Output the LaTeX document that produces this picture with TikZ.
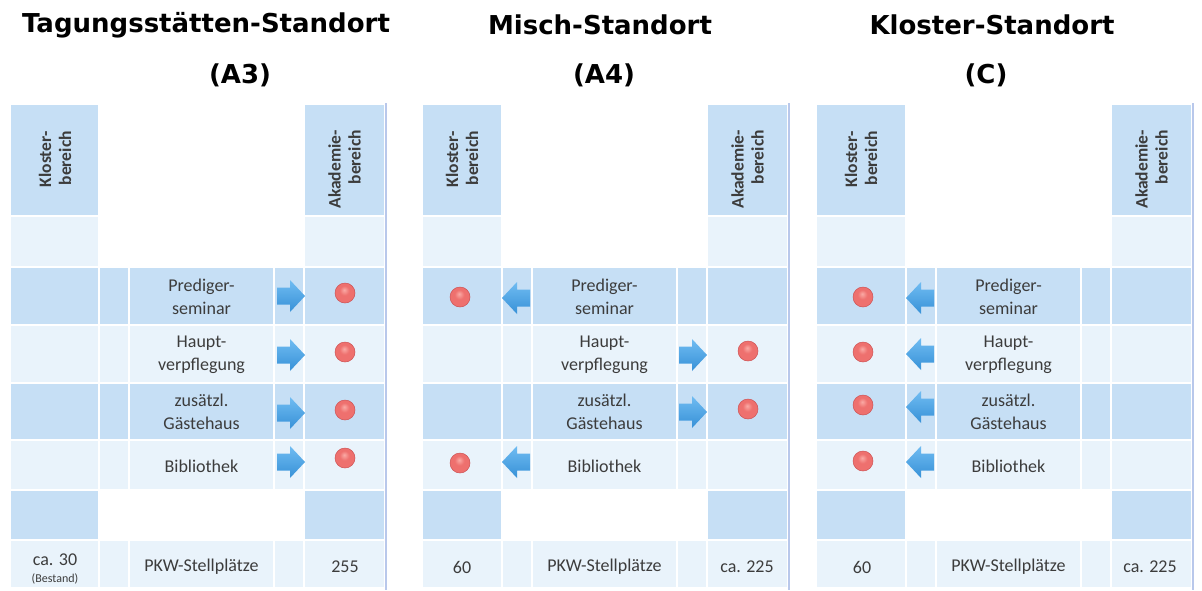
\documentclass[tikz,border=0pt]{standalone}
\usepackage{fontspec}
\setmainfont{Carlito}
\newfontfamily\headfont{DejaVu Sans}

\definecolor{cellDark}{RGB}{198,223,245}
\definecolor{cellLight}{RGB}{233,243,251}
\definecolor{txt}{RGB}{60,60,60}
\definecolor{sepline}{RGB}{185,200,235}
\definecolor{arrTop}{RGB}{112,188,242}
\definecolor{arrBot}{RGB}{55,145,215}
\definecolor{dotA}{RGB}{250,170,165}
\definecolor{dotB}{RGB}{238,112,110}
\definecolor{dotC}{RGB}{205,82,84}

\pgfdeclareradialshading{dotshade}{\pgfpoint{-2bp}{8bp}}{%
  color(0bp)=(dotA); color(12bp)=(dotB); color(42bp)=(dotB); color(50bp)=(dotC)}

\tikzset{
  title/.style={font=\headfont\bfseries\fontsize{26}{30}\selectfont, text=black, inner sep=0pt},
  head/.style={rotate=90, align=right, anchor=east, inner sep=0pt, text=txt,
               font=\bfseries\fontsize{17.5}{20}\selectfont},
  cell/.style={align=center, inner sep=0pt, text=txt,
               font=\fontsize{18}{23}\selectfont},
  dot/.style={circle, minimum size=20pt, inner sep=0pt, draw=dotC, line width=0.5pt,
              shade, shading=dotshade},
  arrowfill/.style={top color=arrTop, bottom color=arrBot, draw=none},
  rarrow/.pic={\shade[arrowfill] (-14,-8.5) -- (-1,-8.5) -- (-1,-16) -- (14,0)
                 -- (-1,16) -- (-1,8.5) -- (-14,8.5) -- cycle;},
  larrow/.pic={\shade[arrowfill,xscale=-1] (-14,-8.5) -- (-1,-8.5) -- (-1,-16) -- (14,0)
                 -- (-1,16) -- (-1,8.5) -- (-14,8.5) -- cycle;},
  divider/.style={draw=sepline, line width=2.5pt},
}

% Cell grid of one panel: #1 = left edge of the Kloster column,
% #2 = left edge of the narrow column next to it
\newcommand\gridpanel[2]{%
  \foreach \ya/\yb/\side/\mid in {105/215/cellDark/none, 217/266/cellLight/none,
      268/324/cellDark/cellDark, 326/382/cellLight/cellLight,
      384/439/cellDark/cellDark, 441/489/cellLight/cellLight,
      491/539/cellDark/none, 541/587/cellLight/cellLight}{%
    \path[fill=\side] (#1,\ya) rectangle (#2-2,\yb);
    \path[fill=\side] (#2+205,\ya) rectangle (#2+284,\yb);
    \path[fill=\mid] (#2,\ya) rectangle (#2+28,\yb);
    \path[fill=\mid] (#2+30,\ya) rectangle (#2+173,\yb);
    \path[fill=\mid] (#2+175,\ya) rectangle (#2+203,\yb);
  }%
}

\begin{document}
\begin{tikzpicture}[x=1pt, y=-1pt]
\useasboundingbox (0,0) rectangle (1202,590);
\fill[white] (0,0) rectangle (1202,590);

% ---------- titles ----------
\node[title] (t1) at (206,25) {Tagungsstätten-Standort};
\node[title] (s1) at (240,75) {(A3)};
\node[title] (t2) at (600,25) {Misch-Standort};
\node[title] (s2) at (604,75) {(A4)};
\node[title] (t3) at (992,25) {Kloster-Standort};
\node[title] (s3) at (986,75) {(C)};

% ---------- grids ----------
\gridpanel{11}{100}
\gridpanel{423}{503}
\gridpanel{817}{907}

% dividers between the panels
\draw[divider] (386,103) -- (386,590);
\draw[divider] (789,103) -- (789,590);
\draw[divider] (1193,103) -- (1193,590);

% ---------- panel A3 ----------
\node[head] (k1) at (55,131) {Kloster-\\bereich};
\node[head] (a1) at (344.5,130) {Akademie-\\bereich};
\node[cell] (p1r3) at (201.5,297) {Prediger-\\seminar};
\node[cell] (p1r4) at (201.5,355) {Haupt-\\verpflegung};
\node[cell] (p1r5) at (201.5,412) {zusätzl.\\Gästehaus};
\node[cell] (p1r6) at (201.5,466) {Bibliothek};
\pic (p1w3) at (291,296) {rarrow};
\pic (p1w4) at (291,355) {rarrow};
\pic (p1w5) at (291,413) {rarrow};
\pic (p1w6) at (291,462) {rarrow};
\node[dot] (p1d3) at (345,293) {};
\node[dot] (p1d4) at (345,352) {};
\node[dot] (p1d5) at (345,410) {};
\node[dot] (p1d6) at (345,458) {};
\node[cell] (p1k) at (55,569) {ca. 30\\[-6pt]{\fontsize{12}{13}\selectfont (Bestand)}};
\node[cell] (p1m) at (201.5,567) {PKW-Stellplätze};
\node[cell] (p1a) at (345,567) {255};

% ---------- panel A4 ----------
\node[head] (k2) at (462,131) {Kloster-\\bereich};
\node[head] (a2) at (747.5,130) {Akademie-\\bereich};
\node[cell] (p2r3) at (604.5,297) {Prediger-\\seminar};
\node[cell] (p2r4) at (604.5,355) {Haupt-\\verpflegung};
\node[cell] (p2r5) at (604.5,412) {zusätzl.\\Gästehaus};
\node[cell] (p2r6) at (604.5,466) {Bibliothek};
\pic (p2w3) at (516,298) {larrow};
\pic (p2w4) at (693,355) {rarrow};
\pic (p2w5) at (693,412) {rarrow};
\pic (p2w6) at (516,462) {larrow};
\node[dot] (p2d3) at (460,297) {};
\node[dot] (p2d4) at (748,351) {};
\node[dot] (p2d5) at (748,409) {};
\node[dot] (p2d6) at (460,463) {};
\node[cell] (p2k) at (462,567) {60};
\node[cell] (p2m) at (604.5,567) {PKW-Stellplätze};
\node[cell] (p2a) at (747,567) {ca. 225};

% ---------- panel C ----------
\node[head] (k3) at (861,131) {Kloster-\\bereich};
\node[head] (a3) at (1151.5,130) {Akademie-\\bereich};
\node[cell] (p3r3) at (1008.5,297) {Prediger-\\seminar};
\node[cell] (p3r4) at (1008.5,355) {Haupt-\\verpflegung};
\node[cell] (p3r5) at (1008.5,412) {zusätzl.\\Gästehaus};
\node[cell] (p3r6) at (1008.5,466) {Bibliothek};
\pic (p3w3) at (920,298) {larrow};
\pic (p3w4) at (920,354) {larrow};
\pic (p3w5) at (920,407) {larrow};
\pic (p3w6) at (920,462) {larrow};
\node[dot] (p3d3) at (863,297) {};
\node[dot] (p3d4) at (863,352) {};
\node[dot] (p3d5) at (863,405) {};
\node[dot] (p3d6) at (863,461) {};
\node[cell] (p3k) at (862,567) {60};
\node[cell] (p3m) at (1008.5,567) {PKW-Stellplätze};
\node[cell] (p3a) at (1150,567) {ca. 225};
\end{tikzpicture}
\end{document}
